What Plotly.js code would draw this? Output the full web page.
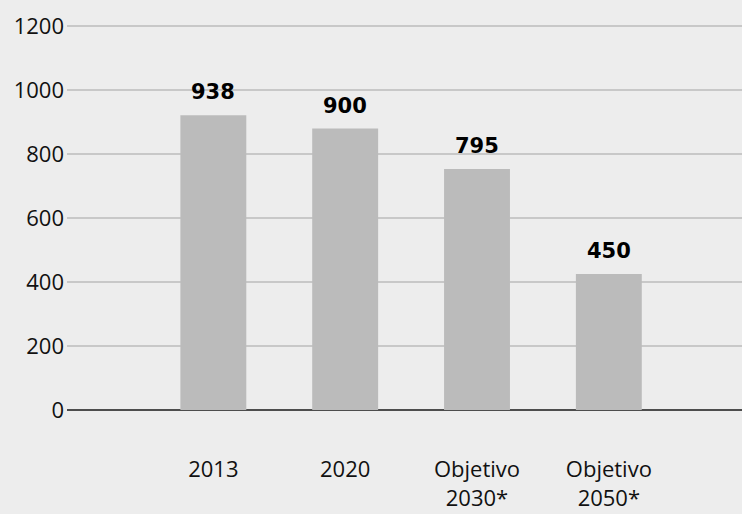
<!DOCTYPE html>
<html>
<head>
<meta charset="utf-8">
<script src="https://cdn.plot.ly/plotly-3.0.1.min.js"></script>
<style>html,body{margin:0;padding:0;background:#ededed;}#chart{width:742px;height:514px;}</style>
</head>
<body>
<div id="chart"></div>
<script>
// Categories (x-axis tick labels)
var categories = ["2013", "2020", "Objetivo<br>2030*", "Objetivo<br>2050*"];
// Bar heights as drawn in the picture
var barValues = [921, 879, 753, 425];
// Value labels printed above the bars
var valueLabels = ["938", "900", "795", "450"];
// Y-axis ticks
var yTicks = [0, 200, 400, 600, 800, 1000, 1200];

var trace = {
  type: "bar",
  x: categories,
  y: barValues,
  width: 0.5,
  marker: {color: "#bbbbbb"},
  hoverinfo: "none"
};

var annotations = categories.map(function (c, i) {
  return {
    x: i, y: barValues[i], xref: "x", yref: "y",
    text: valueLabels[i], showarrow: false,
    yanchor: "bottom", yshift: 9,
    font: {family: "DejaVu Sans", size: 21, color: "#000000", weight: "bold"}
  };
});

var layout = {
  width: 742, height: 514,
  margin: {l: 67, r: 0, t: 21, b: 104, pad: 0},
  paper_bgcolor: "#ededed",
  plot_bgcolor: "#ededed",
  showlegend: false,
  bargap: 0.5,
  font: {family: "Open Sans", size: 22, color: "#111111"},
  xaxis: {
    type: "category",
    range: [-1.11, 4.01],
    showgrid: false,
    showline: false,
    zeroline: false,
    ticks: "",
    ticklabelstandoff: 44,
    tickfont: {family: "Open Sans", size: 22, color: "#111111"}
  },
  yaxis: {
    range: [0, 1215],
    tickvals: yTicks,
    ticktext: yTicks.map(String),
    showgrid: true,
    gridcolor: "#c8c8c8",
    gridwidth: 1.5,
    zeroline: true,
    zerolinecolor: "#4d4d4d",
    zerolinewidth: 2,
    showline: false,
    ticks: "",
    ticklabelstandoff: 2,
    tickfont: {family: "Open Sans", size: 22, color: "#111111"}
  },
  annotations: annotations
};

Plotly.newPlot("chart", [trace], layout, {staticPlot: true, displayModeBar: false});
</script>
</body>
</html>
